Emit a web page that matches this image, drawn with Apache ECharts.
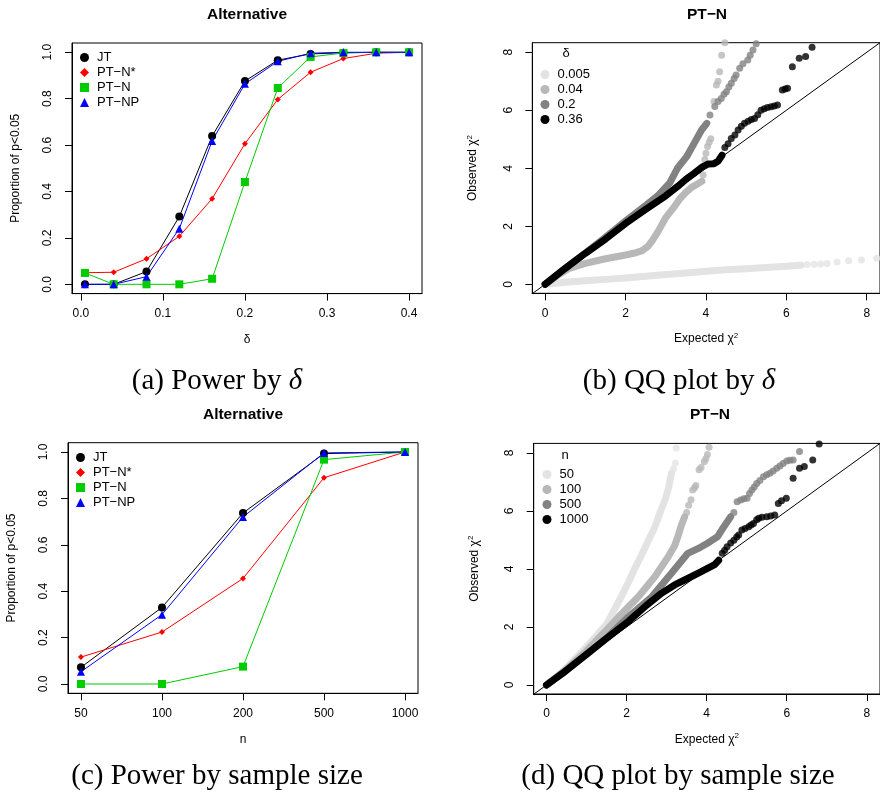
<!DOCTYPE html>
<html><head><meta charset="utf-8">
<script src="https://cdn.jsdelivr.net/npm/echarts@6/dist/echarts.min.js"></script>
<style>html,body{margin:0;padding:0;background:#fff}#c{width:880px;height:794px}</style>
</head><body><div id="c"></div>
<script>
// ---------- Panel (a): power by delta ----------
const deltas = [0.005,0.04,0.08,0.12,0.16,0.2,0.24,0.28,0.32,0.36,0.4];
const jtA      = [0,0,0.055,0.292,0.639,0.876,0.966,0.993,0.998,1,1];
const ptnStarA = [0.05,0.052,0.11,0.207,0.369,0.606,0.797,0.914,0.973,0.996,1];
const ptnA     = [0.049,0,0,0,0.024,0.441,0.846,0.98,0.997,1,1];
const ptnpA    = [0,0,0.033,0.24,0.618,0.864,0.961,0.996,1,1,1];
const xTicksA = [0,0.1,0.2,0.3,0.4];
const yTicksP = [0,0.2,0.4,0.6,0.8,1.0];

// ---------- Panel (c): power by sample size ----------
const nLabels  = ['50','100','200','500','1000'];
const jtC      = [0.072,0.330,0.737,0.993,1];
const ptnStarC = [0.116,0.224,0.455,0.889,1];
const ptnC     = [0,0,0.075,0.967,1];
const ptnpC    = [0.053,0.299,0.72,0.996,1];

// ---------- QQ tick labels ----------
const qqTicks = [0,2,4,6,8];
const diagLine = [[-1,-1],[9,9]];

// ---------- Panel (b): QQ by delta (dense band + sparse tail points) ----------
const b005Dense = [[0,0],[0.5,0.07],[1,0.12],[1.5,0.17],[2,0.22],[2.5,0.28],[3,0.34],[3.5,0.39],[4,0.45],[4.5,0.5],[5,0.54],[5.5,0.58],[6,0.62],[6.36,0.66]];
const b005Tail  = [[6.52,0.68],[6.69,0.69],[6.85,0.70],[7.01,0.72],[7.26,0.77],[7.55,0.81],[7.87,0.84],[8.25,0.90]];
const b04Dense  = [[0,0],[0.3,0.3],[0.6,0.55],[1,0.72],[1.5,0.88],[2,1.01],[2.2,1.07],[2.4,1.15],[2.55,1.3],[2.66,1.5],[2.8,1.8],[3.0,2.3],[3.2,2.65],[3.35,2.95],[3.48,3.14],[3.65,3.35],[3.8,3.47],[3.9,3.55]];
const b04Tail   = [[3.93,3.77],[3.97,4.3],[4.0,4.52],[4.04,4.75],[4.08,4.9],[4.12,5.02],[4.2,6.3],[4.26,6.87],[4.3,7.0],[4.34,7.33],[4.39,7.9],[4.47,8.33]];
const b2Dense   = [[0,0],[0.5,0.55],[1,1.08],[1.5,1.62],[2,2.18],[2.5,2.72],[2.8,3.05],[3.1,3.5],[3.29,4.0],[3.52,4.4],[3.73,4.92],[3.89,5.32],[4.02,5.55]];
const b2Tail    = [[4.1,5.84],[4.22,6.13],[4.3,6.3],[4.38,6.41],[4.45,6.55],[4.51,6.64],[4.57,6.8],[4.63,6.93],[4.7,7.1],[4.75,7.22],[4.84,7.45],[4.92,7.6],[5.04,7.73],[5.1,7.9],[5.17,8.08],[5.25,8.29]];
const b36Dense  = [[0,0],[0.5,0.55],[1,1.07],[1.5,1.56],[2,2.1],[2.5,2.58],[3,3.05],[3.3,3.38],[3.5,3.62],[3.7,3.82],[3.9,4.04],[4.06,4.15],[4.2,4.16],[4.3,4.24],[4.4,4.45]];
const b36Tail   = [[4.47,4.72],[4.55,4.85],[4.63,5.03],[4.72,5.15],[4.8,5.32],[4.88,5.45],[4.96,5.55],[5.05,5.62],[5.13,5.68],[5.21,5.72],[5.29,5.85],[5.37,6.0],[5.45,6.05],[5.53,6.1],[5.62,6.12],[5.7,6.15],[5.78,6.18],[5.9,6.7],[5.97,6.73],[6.03,6.76],[6.15,7.5],[6.32,7.79],[6.48,7.85],[6.64,8.17]];

// ---------- Panel (d): QQ by sample size ----------
const d50Dense   = [[0,0],[0.4,0.45],[0.82,1.05],[1.23,1.67],[1.5,2.1],[1.64,2.45],[1.85,3.0],[2.05,3.55],[2.2,4.0],[2.38,4.5],[2.55,5.0],[2.71,5.46],[2.85,6.0],[2.96,6.38],[3.05,6.8],[3.12,7.3]];
const d50Tail    = [[3.17,7.45],[3.22,7.65],[3.24,8.17]];
const d100Dense  = [[0,0],[0.5,0.55],[1,1.18],[1.4,1.75],[1.81,2.36],[2.3,3.05],[2.71,3.74],[3.04,4.42],[3.2,4.8],[3.28,5.11],[3.36,5.47],[3.45,5.8]];
const d100Tail   = [[3.5,5.95],[3.55,6.2],[3.61,6.39],[3.65,6.72],[3.7,6.8],[3.73,6.88],[3.81,7.42],[3.86,7.5],[3.94,7.7],[3.98,7.8],[4.02,7.95],[4.06,8.2]];
const d500Dense  = [[0,0],[0.5,0.52],[1,1.05],[1.5,1.62],[2.05,2.36],[2.63,3.04],[3.12,3.85],[3.53,4.54],[3.78,4.7],[4.02,4.89],[4.27,5.11],[4.43,5.46],[4.6,5.8]];
const d500Tail   = [[4.68,5.95],[4.76,6.32],[4.85,6.38],[4.93,6.42],[5.01,6.44],[5.07,6.6],[5.13,6.72],[5.19,6.83],[5.25,6.95],[5.33,7.05],[5.42,7.18],[5.5,7.25],[5.58,7.3],[5.66,7.38],[5.75,7.47],[5.83,7.55],[5.91,7.64],[6.0,7.72],[6.08,7.75],[6.16,7.76],[6.32,8.05]];
const d1000Dense = [[0,0],[0.4,0.4],[0.82,0.86],[1.4,1.5],[2.05,2.2],[2.5,2.75],[2.87,3.16],[3.2,3.45],[3.45,3.62],[3.78,3.85],[4.02,4.02],[4.2,4.15],[4.3,4.3]];
const d1000Tail  = [[4.39,4.54],[4.45,4.65],[4.51,4.77],[4.6,4.9],[4.68,4.99],[4.75,5.1],[4.8,5.17],[4.88,5.34],[4.96,5.4],[5.05,5.46],[5.11,5.52],[5.17,5.57],[5.25,5.7],[5.3,5.75],[5.38,5.78],[5.5,5.8],[5.6,5.83],[5.7,5.86],[5.79,6.26],[5.87,6.35],[5.99,6.44],[6.16,7.13],[6.32,7.47],[6.44,7.53],[6.65,7.76],[6.81,8.31]];

const SANS = 'Liberation Sans, Arial, sans-serif';
const SERIF = 'Liberation Serif, Times New Roman, serif';
const GR = {vlight:'#e3e3e3', light:'#b8b8b8', mid:'#828282', dark:'#000000'};

const chart = echarts.init(document.getElementById('c'), null, {renderer:'canvas'});

function grid(left, top, width, height){
  return {left, top, width, height, show:true, borderColor:'#000', borderWidth:1, backgroundColor:'transparent', containLabel:false};
}
function valAxis(gi, min, max, ticks, fmt, extra){
  return Object.assign({
    type:'value', gridIndex:gi, min, max, scale:true,
    splitLine:{show:false},
    axisLine:{show:true, onZero:false, lineStyle:{color:'#000', width:1}},
    axisTick:{show:true, length:7, inside:false, customValues:ticks, lineStyle:{color:'#000', width:1}},
    axisLabel:{customValues:ticks, formatter:fmt, color:'#000', fontSize:12, fontFamily:SANS, margin:14},
    nameLocation:'middle',
    nameTextStyle:{color:'#000', fontSize:12, fontFamily:SANS}
  }, extra||{});
}
const f1 = v => (+v).toFixed(1);
const f0 = v => String(Math.round(v));
const chiRich = {s:{fontSize:8, fontFamily:SANS, color:'#000', padding:[0,0,7,0]}};

function powerSeries(gi, xs, arrs){
  const defs = [
    ['JT', arrs[0], '#000000', 'circle', 8],
    ['PT−N*', arrs[1], '#ff0000', 'diamond', 6],
    ['PT−N', arrs[2], '#00cc00', 'rect', 8],
    ['PT−NP', arrs[3], '#0000ff', 'triangle', 8]
  ];
  return defs.map(d => ({
    type:'line', name:d[0], xAxisIndex:gi, yAxisIndex:gi,
    data: xs.map((x,i)=>[x, d[1][i]]),
    symbol:d[3], symbolSize:d[4], showSymbol:true,
    lineStyle:{color:d[2], width:1}, itemStyle:{color:d[2]},
    emphasis:{disabled:true}
  }));
}
function qqSeries(gi, name, color, dense, tail){
  return [
    {type:'line', name, xAxisIndex:gi, yAxisIndex:gi, data:dense, symbol:'none', showSymbol:false,
     lineStyle:{color, width:7, cap:'round', join:'round'}, itemStyle:{color}, clip:true, emphasis:{disabled:true}},
    {type:'scatter', name, xAxisIndex:gi, yAxisIndex:gi, data:tail, symbol:'circle', symbolSize:7,
     itemStyle:{color}, clip:true, emphasis:{disabled:true}}
  ];
}
function diag(gi){
  return {type:'line', xAxisIndex:gi, yAxisIndex:gi, data:diagLine, symbol:'none', silent:true,
    lineStyle:{color:'#000', width:1}, clip:true};
}
function legendAt(left, top, names, icons, fs){
  return {left, top, orient:'vertical', itemGap:2, itemWidth:9, itemHeight:9, padding:5,
    selectedMode:false,
    textStyle:{color:'#000', fontSize:fs, fontFamily:SANS, padding:[0,0,0,3]},
    data: names.map((n,i)=>({name:n, icon:icons[i]}))};
}
const powNames = ['JT','PT−N*','PT−N','PT−NP'];
const powIcons = ['circle','diamond','rect','triangle'];
const capRich = {t:{fontSize:29, fontFamily:SERIF, fill:'#000'}, i:{fontSize:29, fontFamily:SERIF, fontStyle:'italic', fill:'#000'}};

const option = {
  animation:false,
  backgroundColor:'#fff',
  grid:[ grid(72,43,350,250.6), grid(532.3,42.7,351,250.6), grid(68,442.7,350,250.6), grid(533.7,443.4,351,250.6) ],
  xAxis:[
    valAxis(0,-0.0108,0.4158,xTicksA,f1,{name:'δ', nameGap:40}),
    valAxis(1,-0.32,8.33,qqTicks,f0,{name:'Expected χ{s|2}', nameGap:38, nameTextStyle:{color:'#000', fontSize:12, fontFamily:SANS, rich:chiRich}}),
    valAxis(2,-0.16,4.16,[0,1,2,3,4],v=>nLabels[Math.round(v)],{name:'n', nameGap:40}),
    valAxis(3,-0.32,8.33,qqTicks,f0,{name:'Expected χ{s|2}', nameGap:38, nameTextStyle:{color:'#000', fontSize:12, fontFamily:SANS, rich:chiRich}})
  ],
  yAxis:[
    valAxis(0,-0.04,1.04,yTicksP,f1,{name:'Proportion of p<0.05', nameGap:50, axisLabel:{customValues:yTicksP, formatter:f1, rotate:90, color:'#000', fontSize:12, fontFamily:SANS, margin:18}}),
    valAxis(1,-0.31,8.33,qqTicks,f0,{name:'Observed χ{s|2}', nameGap:52, nameTextStyle:{color:'#000', fontSize:12, fontFamily:SANS, rich:chiRich}, axisLabel:{customValues:qqTicks, formatter:f0, rotate:90, color:'#000', fontSize:12, fontFamily:SANS, margin:18}}),
    valAxis(2,-0.04,1.04,yTicksP,f1,{name:'Proportion of p<0.05', nameGap:50, axisLabel:{customValues:yTicksP, formatter:f1, rotate:90, color:'#000', fontSize:12, fontFamily:SANS, margin:18}}),
    valAxis(3,-0.31,8.33,qqTicks,f0,{name:'Observed χ{s|2}', nameGap:52, nameTextStyle:{color:'#000', fontSize:12, fontFamily:SANS, rich:chiRich}, axisLabel:{customValues:qqTicks, formatter:f0, rotate:90, color:'#000', fontSize:12, fontFamily:SANS, margin:18}})
  ],
  legend:[
    legendAt(75,46,powNames,powIcons,13),
    legendAt(535.5,63,['0.005','0.04','0.2','0.36'],['circle','circle','circle','circle'],13),
    legendAt(71,446,powNames,powIcons,13),
    legendAt(537.5,463,['50','100','500','1000'],['circle','circle','circle','circle'],13)
  ],
  series:[].concat(
    powerSeries(0, deltas, [jtA, ptnStarA, ptnA, ptnpA]),
    [diag(1)],
    qqSeries(1,'0.005',GR.vlight,b005Dense,b005Tail),
    qqSeries(1,'0.04',GR.light,b04Dense,b04Tail),
    qqSeries(1,'0.2',GR.mid,b2Dense,b2Tail),
    qqSeries(1,'0.36',GR.dark,b36Dense,b36Tail),
    powerSeries(2, [0,1,2,3,4], [jtC, ptnStarC, ptnC, ptnpC]),
    [diag(3)],
    qqSeries(3,'50',GR.vlight,d50Dense,d50Tail),
    qqSeries(3,'100',GR.light,d100Dense,d100Tail),
    qqSeries(3,'500',GR.mid,d500Dense,d500Tail),
    qqSeries(3,'1000',GR.dark,d1000Dense,d1000Tail)
  ),
  graphic:[
    {type:'text', x:247, y:15, style:{text:'Alternative', font:'bold 15.5px '+SANS, fill:'#000', align:'center', verticalAlign:'middle'}},
    {type:'text', x:707, y:15, style:{text:'PT−N', font:'bold 15.5px '+SANS, fill:'#000', align:'center', verticalAlign:'middle'}},
    {type:'text', x:243, y:415, style:{text:'Alternative', font:'bold 15.5px '+SANS, fill:'#000', align:'center', verticalAlign:'middle'}},
    {type:'text', x:710, y:415, style:{text:'PT−N', font:'bold 15.5px '+SANS, fill:'#000', align:'center', verticalAlign:'middle'}},
    {type:'text', x:566, y:53, style:{text:'δ', font:'13px '+SANS, fill:'#000', align:'center', verticalAlign:'middle'}},
    {type:'text', x:565, y:455, style:{text:'n', font:'13px '+SANS, fill:'#000', align:'center', verticalAlign:'middle'}},
    {type:'text', x:217, y:381, style:{text:'{t|(a) Power by }{i|δ}', align:'center', verticalAlign:'middle', rich:capRich}},
    {type:'text', x:679, y:381, style:{text:'{t|(b) QQ plot by }{i|δ}', align:'center', verticalAlign:'middle', rich:capRich}},
    {type:'text', x:217, y:776, style:{text:'(c) Power by sample size', font:'29px '+SERIF, fill:'#000', align:'center', verticalAlign:'middle'}},
    {type:'text', x:678, y:776, style:{text:'(d) QQ plot by sample size', font:'29px '+SERIF, fill:'#000', align:'center', verticalAlign:'middle'}}
  ]
};
chart.setOption(option);
</script></body></html>
